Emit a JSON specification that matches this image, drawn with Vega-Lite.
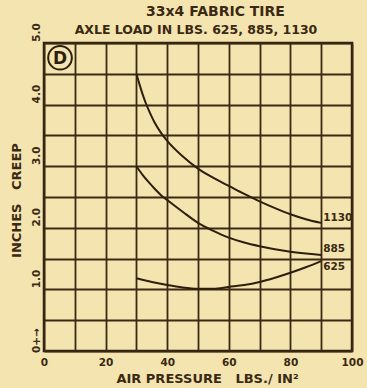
{
  "$schema": "https://vega.github.io/schema/vega-lite/v6.json",
  "width": 308,
  "height": 308,
  "autosize": {"type": "none"},
  "padding": {"left": 44, "top": 43, "right": 15, "bottom": 37},
  "background": "#f4e4b0",
  "title": {
    "text": "\u200b\u00a0\u00a0\u00a0\u00a0\u00a0\u00a0\u00a0\u00a033x4 FABRIC TIRE",
    "subtitle": "AXLE LOAD IN LBS. 625, 885, 1130",
    "anchor": "middle",
    "dx": -2,
    "offset": -14,
    "fontSize": 14,
    "fontWeight": "bold",
    "color": "#3a2913",
    "subtitleFontSize": 12.5,
    "subtitleFontWeight": "bold",
    "subtitleColor": "#3a2913",
    "subtitlePadding": 5,
    "font": "DejaVu Sans",
    "subtitleFont": "DejaVu Sans"
  },
  "datasets": {
    "curves": [
      {"pressure": 30, "creep": 4.5, "load": "1130"},
      {"pressure": 31, "creep": 4.33, "load": "1130"},
      {"pressure": 32, "creep": 4.17, "load": "1130"},
      {"pressure": 33, "creep": 4.03, "load": "1130"},
      {"pressure": 34, "creep": 3.91, "load": "1130"},
      {"pressure": 35, "creep": 3.8, "load": "1130"},
      {"pressure": 36, "creep": 3.7, "load": "1130"},
      {"pressure": 38, "creep": 3.54, "load": "1130"},
      {"pressure": 40, "creep": 3.41, "load": "1130"},
      {"pressure": 45, "creep": 3.16, "load": "1130"},
      {"pressure": 50, "creep": 2.96, "load": "1130"},
      {"pressure": 55, "creep": 2.81, "load": "1130"},
      {"pressure": 60, "creep": 2.68, "load": "1130"},
      {"pressure": 65, "creep": 2.55, "load": "1130"},
      {"pressure": 70, "creep": 2.43, "load": "1130"},
      {"pressure": 75, "creep": 2.32, "load": "1130"},
      {"pressure": 80, "creep": 2.22, "load": "1130"},
      {"pressure": 85, "creep": 2.14, "load": "1130"},
      {"pressure": 90, "creep": 2.08, "load": "1130"},
      {"pressure": 30, "creep": 3.0, "load": "885"},
      {"pressure": 32, "creep": 2.86, "load": "885"},
      {"pressure": 34, "creep": 2.74, "load": "885"},
      {"pressure": 36, "creep": 2.63, "load": "885"},
      {"pressure": 38, "creep": 2.53, "load": "885"},
      {"pressure": 40, "creep": 2.45, "load": "885"},
      {"pressure": 45, "creep": 2.26, "load": "885"},
      {"pressure": 50, "creep": 2.08, "load": "885"},
      {"pressure": 55, "creep": 1.95, "load": "885"},
      {"pressure": 60, "creep": 1.84, "load": "885"},
      {"pressure": 65, "creep": 1.76, "load": "885"},
      {"pressure": 70, "creep": 1.7, "load": "885"},
      {"pressure": 80, "creep": 1.61, "load": "885"},
      {"pressure": 90, "creep": 1.56, "load": "885"},
      {"pressure": 30, "creep": 1.18, "load": "625"},
      {"pressure": 35, "creep": 1.12, "load": "625"},
      {"pressure": 40, "creep": 1.07, "load": "625"},
      {"pressure": 45, "creep": 1.03, "load": "625"},
      {"pressure": 50, "creep": 1.01, "load": "625"},
      {"pressure": 55, "creep": 1.01, "load": "625"},
      {"pressure": 60, "creep": 1.04, "load": "625"},
      {"pressure": 65, "creep": 1.07, "load": "625"},
      {"pressure": 70, "creep": 1.12, "load": "625"},
      {"pressure": 75, "creep": 1.19, "load": "625"},
      {"pressure": 80, "creep": 1.27, "load": "625"},
      {"pressure": 85, "creep": 1.36, "load": "625"},
      {"pressure": 90, "creep": 1.46, "load": "625"}
    ],
    "labels": [
      {"pressure": 90, "creep": 2.16, "load": "1130"},
      {"pressure": 90, "creep": 1.66, "load": "885"},
      {"pressure": 90, "creep": 1.36, "load": "625"}
    ],
    "badge": [
      {"pressure": 5.2, "creep": 4.76, "mark": "D"}
    ]
  },
  "encoding": {
    "x": {
      "field": "pressure", "type": "quantitative",
      "scale": {"domain": [0, 100], "nice": false},
      "axis": {
        "values": [0, 10, 20, 30, 40, 50, 60, 70, 80, 90, 100],
        "labelExpr": "datum.value % 20 == 0 ? datum.label : ''",
        "title": "AIR PRESSURE\u00a0\u00a0 LBS./ IN²",
        "titleX": 163,
        "titleY": 27,
        "titleBaseline": "middle",
        "titleFontSize": 13,
        "labelPadding": 6,
        "labelFontSize": 10.5
      }
    },
    "y": {
      "field": "creep", "type": "quantitative",
      "scale": {"domain": [0, 5], "nice": false},
      "axis": {
        "values": [0, 0.5, 1, 1.5, 2, 2.5, 3, 3.5, 4, 4.5, 5],
        "labelExpr": "datum.value == 0 ? '0+→' : (datum.value % 1 == 0 ? format(datum.value, '.1f') : '')",
        "labelAngle": -90,
        "labelAlign": "center",
        "labelBaseline": "bottom",
        "labelOffset": -11,
        "labelPadding": 3,
        "labelFontSize": 10.5,
        "title": "INCHES\u00a0\u00a0 CREEP",
        "titleX": -28,
        "titleY": 157,
        "titleAngle": -90,
        "titleAlign": "center",
        "titleBaseline": "middle",
        "titleFontSize": 13
      }
    }
  },
  "layer": [
    {
      "data": {"name": "curves"},
      "mark": {"type": "line", "interpolate": "monotone", "stroke": "#2e1f0c", "strokeWidth": 2},
      "encoding": {
        "detail": {"field": "load"}
      }
    },
    {
      "data": {"name": "labels"},
      "mark": {"type": "text", "align": "left", "baseline": "middle", "dx": 2, "fontSize": 10.5, "fontWeight": "bold", "color": "#3a2913"},
      "encoding": {
        "text": {"field": "load"}
      }
    },
    {
      "data": {"name": "badge"},
      "mark": {"type": "point", "shape": "circle", "size": 560, "filled": false, "stroke": "#2e1f0c", "strokeWidth": 2, "opacity": 1},
      "encoding": {}
    },
    {
      "data": {"name": "badge"},
      "mark": {"type": "text", "align": "center", "baseline": "middle", "fontSize": 17, "fontWeight": "bold", "color": "#2e1f0c", "dy": 1},
      "encoding": {
        "text": {"field": "mark"}
      }
    }
  ],
  "config": {
    "font": "DejaVu Sans",
    "view": {"stroke": "#2e1f0c", "strokeWidth": 2.5, "fill": "#f4e4b0"},
    "axis": {
      "grid": true,
      "gridColor": "#3a2913",
      "gridWidth": 1.8,
      "gridOpacity": 1,
      "ticks": false,
      "domain": false,
      "labelColor": "#3a2913",
      "labelFontWeight": "bold",
      "labelFont": "DejaVu Sans",
      "labelOverlap": false,
      "labelFlush": false,
      "labelBound": false,
      "titleColor": "#3a2913",
      "titleFontWeight": "bold",
      "titleFont": "DejaVu Sans"
    }
  }
}
